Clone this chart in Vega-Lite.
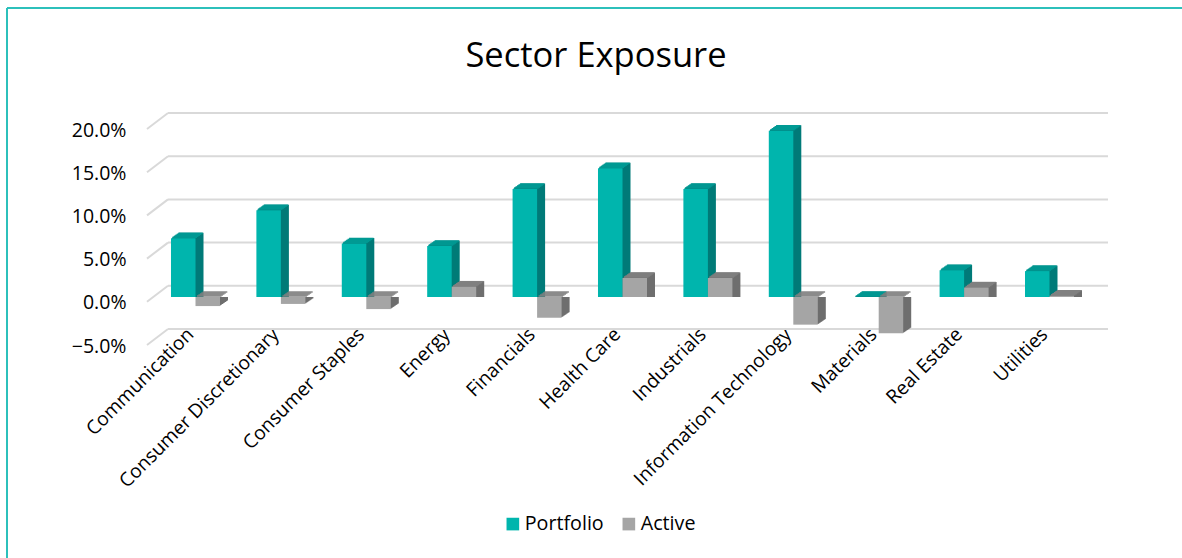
{"$schema":"https://vega.github.io/schema/vega-lite/v6.json","width":1175,"height":550,"autosize":{"type":"none"},"padding":{"left":7,"top":8,"right":0,"bottom":0},"background":"white","view":{"stroke":null},
"title":{"text":"Sector Exposure","anchor":"middle","frame":"group","font":"Open Sans","fontSize":34.5,"fontWeight":"normal","color":"#000000","offset":0,"dy":67,"dx":1.5},
"config":{"axis":{"labelFont":"Open Sans","labelColor":"#000000"},"legend":{"labelFont":"Open Sans"}},
"data":{"values":[
{"sector":"Communication","series":"Portfolio","value":6.8},{"sector":"Communication","series":"Active","value":-1.05},
{"sector":"Consumer Discretionary","series":"Portfolio","value":10.05},{"sector":"Consumer Discretionary","series":"Active","value":-0.8},
{"sector":"Consumer Staples","series":"Portfolio","value":6.2},{"sector":"Consumer Staples","series":"Active","value":-1.4},
{"sector":"Energy","series":"Portfolio","value":5.9},{"sector":"Energy","series":"Active","value":1.2},
{"sector":"Financials","series":"Portfolio","value":12.5},{"sector":"Financials","series":"Active","value":-2.4},
{"sector":"Health Care","series":"Portfolio","value":14.9},{"sector":"Health Care","series":"Active","value":2.2},
{"sector":"Industrials","series":"Portfolio","value":12.5},{"sector":"Industrials","series":"Active","value":2.2},
{"sector":"Information Technology","series":"Portfolio","value":19.25},{"sector":"Information Technology","series":"Active","value":-3.2},
{"sector":"Materials","series":"Portfolio","value":0.0},{"sector":"Materials","series":"Active","value":-4.2},
{"sector":"Real Estate","series":"Portfolio","value":3.1},{"sector":"Real Estate","series":"Active","value":1.1},
{"sector":"Utilities","series":"Portfolio","value":3.0},{"sector":"Utilities","series":"Active","value":0.15}
]},
"resolve":{"scale":{"x":"independent","y":"independent","xOffset":"independent","color":"independent"},"axis":{"x":"independent","y":"independent"}},
"layer":[
{"data":{"values":[{"edge":0}]},"mark":{"type":"rule","color":"#2cc0bb","strokeWidth":2},"encoding":{"x":{"field":"edge","type":"quantitative","axis":null,"scale":{"domain":[0,1],"range":[0,1]}}}},
{"data":{"values":[{"edge":0}]},"mark":{"type":"rule","color":"#2cc0bb","strokeWidth":2},"encoding":{"y":{"field":"edge","type":"quantitative","axis":null,"scale":{"domain":[0,1],"range":[0,1]}}}},
{"data":{"values":[{"tick":-5},{"tick":0},{"tick":5},{"tick":10},{"tick":15},{"tick":20}]},"mark":{"type":"rule","color":"#d9d9d9","strokeWidth":2,"yOffset":-16},"encoding":{"x":{"datum":0,"type":"quantitative","axis":null,"scale":{"domain":[0,1],"range":[161,1101]}},"x2":{"datum":1},"y":{"field":"tick","type":"quantitative","scale":{"domain":[-5,20],"range":[337,121]},"axis":{"orient":"left","offset":-119,"labelPadding":0,"labelOffset":1,"domain":false,"ticks":false,"grid":false,"title":null,"values":[-5,0,5,10,15,20],"labelExpr":"format(datum.value,'.1f')+'%'","labelFontSize":19.5}}}},
{"data":{"values":[{"tick":-5},{"tick":0},{"tick":5},{"tick":10},{"tick":15},{"tick":20}]},"mark":{"type":"rule","color":"#d9d9d9","strokeWidth":2,"y2Offset":-16},"encoding":{"x":{"datum":0,"type":"quantitative","axis":null,"scale":{"domain":[0,1],"range":[140,161]}},"x2":{"datum":1},"y":{"field":"tick","type":"quantitative","axis":null,"scale":{"domain":[-5,20],"range":[337,121]}},"y2":{"field":"tick"}}},
{"mark":{"type":"bar","yOffset":-5.5,"y2Offset":-5.5},"encoding":{"x":{"field":"sector","type":"nominal","sort":null,"axis":null,"scale":{"range":[153.8,1093.2],"paddingInner":0.426,"paddingOuter":0.213}},"xOffset":{"field":"series","type":"nominal","scale":{"domain":["Portfolio","Active"]}},"y":{"field":"value","type":"quantitative","stack":null,"axis":null,"scale":{"domain":[-5,20],"range":[332.2,116.2]}},"color":{"condition":{"test":"datum.series==='Portfolio'","value":"#007b78"},"value":"#6e6e6e"}}},
{"mark":{"type":"bar","yOffset":-4.8,"y2Offset":-4.8},"encoding":{"x":{"field":"sector","type":"nominal","sort":null,"axis":null,"scale":{"range":[152.8,1092.2],"paddingInner":0.426,"paddingOuter":0.213}},"xOffset":{"field":"series","type":"nominal","scale":{"domain":["Portfolio","Active"]}},"y":{"field":"value","type":"quantitative","stack":null,"axis":null,"scale":{"domain":[-5,20],"range":[332.2,116.2]}},"color":{"condition":{"test":"datum.series==='Portfolio'","value":"#007b78"},"value":"#6e6e6e"}}},
{"mark":{"type":"bar","yOffset":-4.1,"y2Offset":-4.1},"encoding":{"x":{"field":"sector","type":"nominal","sort":null,"axis":null,"scale":{"range":[151.8,1091.2],"paddingInner":0.426,"paddingOuter":0.213}},"xOffset":{"field":"series","type":"nominal","scale":{"domain":["Portfolio","Active"]}},"y":{"field":"value","type":"quantitative","stack":null,"axis":null,"scale":{"domain":[-5,20],"range":[332.2,116.2]}},"color":{"condition":{"test":"datum.series==='Portfolio'","value":"#007b78"},"value":"#6e6e6e"}}},
{"mark":{"type":"bar","yOffset":-3.4,"y2Offset":-3.4},"encoding":{"x":{"field":"sector","type":"nominal","sort":null,"axis":null,"scale":{"range":[150.8,1090.2],"paddingInner":0.426,"paddingOuter":0.213}},"xOffset":{"field":"series","type":"nominal","scale":{"domain":["Portfolio","Active"]}},"y":{"field":"value","type":"quantitative","stack":null,"axis":null,"scale":{"domain":[-5,20],"range":[332.2,116.2]}},"color":{"condition":{"test":"datum.series==='Portfolio'","value":"#007b78"},"value":"#6e6e6e"}}},
{"mark":{"type":"bar","yOffset":-2.75,"y2Offset":-2.75},"encoding":{"x":{"field":"sector","type":"nominal","sort":null,"axis":null,"scale":{"range":[149.8,1089.2],"paddingInner":0.426,"paddingOuter":0.213}},"xOffset":{"field":"series","type":"nominal","scale":{"domain":["Portfolio","Active"]}},"y":{"field":"value","type":"quantitative","stack":null,"axis":null,"scale":{"domain":[-5,20],"range":[332.2,116.2]}},"color":{"condition":{"test":"datum.series==='Portfolio'","value":"#007b78"},"value":"#6e6e6e"}}},
{"mark":{"type":"bar","yOffset":-2.05,"y2Offset":-2.05},"encoding":{"x":{"field":"sector","type":"nominal","sort":null,"axis":null,"scale":{"range":[148.8,1088.2],"paddingInner":0.426,"paddingOuter":0.213}},"xOffset":{"field":"series","type":"nominal","scale":{"domain":["Portfolio","Active"]}},"y":{"field":"value","type":"quantitative","stack":null,"axis":null,"scale":{"domain":[-5,20],"range":[332.2,116.2]}},"color":{"condition":{"test":"datum.series==='Portfolio'","value":"#007b78"},"value":"#6e6e6e"}}},
{"mark":{"type":"bar","yOffset":-1.4,"y2Offset":-1.4},"encoding":{"x":{"field":"sector","type":"nominal","sort":null,"axis":null,"scale":{"range":[147.8,1087.2],"paddingInner":0.426,"paddingOuter":0.213}},"xOffset":{"field":"series","type":"nominal","scale":{"domain":["Portfolio","Active"]}},"y":{"field":"value","type":"quantitative","stack":null,"axis":null,"scale":{"domain":[-5,20],"range":[332.2,116.2]}},"color":{"condition":{"test":"datum.series==='Portfolio'","value":"#007b78"},"value":"#6e6e6e"}}},
{"mark":{"type":"bar","yOffset":-0.7,"y2Offset":-0.7},"encoding":{"x":{"field":"sector","type":"nominal","sort":null,"axis":null,"scale":{"range":[146.8,1086.2],"paddingInner":0.426,"paddingOuter":0.213}},"xOffset":{"field":"series","type":"nominal","scale":{"domain":["Portfolio","Active"]}},"y":{"field":"value","type":"quantitative","stack":null,"axis":null,"scale":{"domain":[-5,20],"range":[332.2,116.2]}},"color":{"condition":{"test":"datum.series==='Portfolio'","value":"#007b78"},"value":"#6e6e6e"}}},
{"mark":{"type":"tick","orient":"horizontal","size":24.5,"thickness":1.4,"opacity":1,"yOffset":-5},"encoding":{"x":{"field":"sector","type":"nominal","sort":null,"axis":null,"scale":{"range":[153.1,1092.5],"paddingInner":0.426,"paddingOuter":0.213}},"xOffset":{"field":"series","type":"nominal","scale":{"domain":["Portfolio","Active"]}},"y":{"field":"value","type":"quantitative","stack":null,"axis":null,"scale":{"domain":[0,20],"range":[289,116.2],"clamp":true}},"color":{"condition":{"test":"datum.series==='Portfolio'","value":"#009a94"},"value":"#808080"}}},
{"mark":{"type":"tick","orient":"horizontal","size":24.5,"thickness":1.4,"opacity":1,"yOffset":-4},"encoding":{"x":{"field":"sector","type":"nominal","sort":null,"axis":null,"scale":{"range":[151.6,1091],"paddingInner":0.426,"paddingOuter":0.213}},"xOffset":{"field":"series","type":"nominal","scale":{"domain":["Portfolio","Active"]}},"y":{"field":"value","type":"quantitative","stack":null,"axis":null,"scale":{"domain":[0,20],"range":[289,116.2],"clamp":true}},"color":{"condition":{"test":"datum.series==='Portfolio'","value":"#009a94"},"value":"#808080"}}},
{"mark":{"type":"tick","orient":"horizontal","size":24.5,"thickness":1.4,"opacity":1,"yOffset":-3},"encoding":{"x":{"field":"sector","type":"nominal","sort":null,"axis":null,"scale":{"range":[150.2,1089.6],"paddingInner":0.426,"paddingOuter":0.213}},"xOffset":{"field":"series","type":"nominal","scale":{"domain":["Portfolio","Active"]}},"y":{"field":"value","type":"quantitative","stack":null,"axis":null,"scale":{"domain":[0,20],"range":[289,116.2],"clamp":true}},"color":{"condition":{"test":"datum.series==='Portfolio'","value":"#009a94"},"value":"#808080"}}},
{"mark":{"type":"tick","orient":"horizontal","size":24.5,"thickness":1.4,"opacity":1,"yOffset":-2},"encoding":{"x":{"field":"sector","type":"nominal","sort":null,"axis":null,"scale":{"range":[148.7,1088.1],"paddingInner":0.426,"paddingOuter":0.213}},"xOffset":{"field":"series","type":"nominal","scale":{"domain":["Portfolio","Active"]}},"y":{"field":"value","type":"quantitative","stack":null,"axis":null,"scale":{"domain":[0,20],"range":[289,116.2],"clamp":true}},"color":{"condition":{"test":"datum.series==='Portfolio'","value":"#009a94"},"value":"#808080"}}},
{"mark":{"type":"tick","orient":"horizontal","size":24.5,"thickness":1.4,"opacity":1,"yOffset":-1},"encoding":{"x":{"field":"sector","type":"nominal","sort":null,"axis":null,"scale":{"range":[147.3,1086.7],"paddingInner":0.426,"paddingOuter":0.213}},"xOffset":{"field":"series","type":"nominal","scale":{"domain":["Portfolio","Active"]}},"y":{"field":"value","type":"quantitative","stack":null,"axis":null,"scale":{"domain":[0,20],"range":[289,116.2],"clamp":true}},"color":{"condition":{"test":"datum.series==='Portfolio'","value":"#009a94"},"value":"#808080"}}},
{"mark":{"type":"bar"},"encoding":{"x":{"field":"sector","type":"nominal","sort":null,"scale":{"range":[145.8,1085.2],"paddingInner":0.426,"paddingOuter":0.213},"axis":{"orient":"bottom","offset":-229,"labelAngle":-45,"labelAlign":"right","labelBaseline":"middle","labelPadding":2,"labelOffset":-5,"labelFontSize":19.2,"labelLimit":300,"domain":false,"ticks":false,"grid":false,"title":null,"labelOverlap":false}},"xOffset":{"field":"series","type":"nominal","scale":{"domain":["Portfolio","Active"]}},"y":{"field":"value","type":"quantitative","stack":null,"axis":null,"scale":{"domain":[-5,20],"range":[332.2,116.2]}},"color":{"field":"series","type":"nominal","scale":{"domain":["Portfolio","Active"],"range":["#00b5ad","#a5a5a5"]},"legend":{"orient":"none","legendX":496,"legendY":506,"direction":"horizontal","title":null,"symbolType":"square","symbolSize":160,"symbolStrokeWidth":0,"labelFontSize":19.7,"labelOffset":2,"labelColor":"#000000","columnPadding":15}}}}
]}
